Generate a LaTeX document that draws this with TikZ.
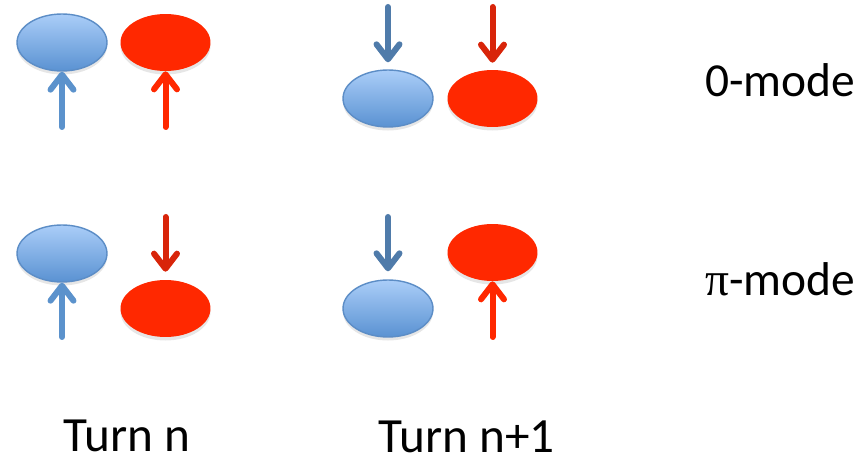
\documentclass[tikz,border=0pt]{standalone}
\usepackage{fontspec}
\setmainfont{Carlito}
\newfontfamily\greekfont{Liberation Serif}
\usetikzlibrary{shapes.geometric,arrows.meta,shadows}
\definecolor{bluetop}{HTML}{AACDF8}
\definecolor{bluebot}{HTML}{5A92D2}
\definecolor{blueline}{HTML}{5C8DC6}
\definecolor{blueup}{HTML}{5B92CC}
\definecolor{bluedown}{HTML}{4F7BAA}
\definecolor{redfill}{HTML}{FF2800}
\definecolor{reddown}{HTML}{D8250A}
\tikzset{
  bunch/.style={ellipse, minimum width=1.8cm, minimum height=1.14cm, inner sep=0pt,
    drop shadow={opacity=0.2, shadow xshift=0pt, shadow yshift=-2pt}},
  bluebunch/.style={bunch, draw=blueline, line width=0.8pt, top color=bluetop, bottom color=bluebot},
  redbunch/.style={bunch, fill=redfill},
  kick/.style={line width=0.12cm, line cap=round,
    -{Straight Barb[length=0.3cm, width=0.46cm, round]}},
  label/.style={anchor=base west, inner sep=0pt, text depth=0pt}
}
\begin{document}
\begin{tikzpicture}[x=0.02cm, y=-0.02cm]
\useasboundingbox (0,0) rectangle (856,462);
% bunches, turn n
\node[bluebunch] (b1) at (62,42.5) {};
\node[redbunch] (r1) at (165.5,42.5) {};
\node[bluebunch] (b2) at (62,253.5) {};
\node[redbunch] (r2) at (165.5,308.5) {};
% bunches, turn n+1
\node[bluebunch] (b3) at (388,98.5) {};
\node[redbunch] (r3) at (492.5,98.5) {};
\node[bluebunch] (b4) at (388,308.5) {};
\node[redbunch] (r4) at (492.5,252.5) {};
% kicks
\coordinate (kb1) at (62,127);
\coordinate (kr1) at (165.5,127);
\coordinate (kb2) at (62,337);
\coordinate (kr2) at (165.5,217);
\coordinate (kb3) at (388,7);
\coordinate (kr3) at (492.5,7);
\coordinate (kb4) at (388,217);
\coordinate (kr4) at (492.5,337);
\draw[kick, blueup] (kb1) -- (b1.south);
\draw[kick, redfill] (kr1) -- (r1.south);
\draw[kick, blueup] (kb2) -- (b2.south);
\draw[kick, reddown] (kr2) -- ([yshift=0.16cm]r2.north);
\draw[kick, bluedown] (kb3) -- ([yshift=0.14cm]b3.north);
\draw[kick, reddown] (kr3) -- ([yshift=0.14cm]r3.north);
\draw[kick, bluedown] (kb4) -- ([yshift=0.16cm]b4.north);
\draw[kick, redfill] (kr4) -- (r4.south);
% labels
\node[label, font=\fontsize{27}{32}\selectfont] (zero) at (705,97) {0-mode};
\node[label, font=\fontsize{27}{32}\selectfont] (pi) at (705,296) {{\greekfont π}-mode};
\node[label, font=\fontsize{28}{33}\selectfont] (tn) at (63,452) {Turn n};
\node[label, font=\fontsize{28}{33}\selectfont] (tn1) at (378,453) {Turn n+1};
\end{tikzpicture}
\end{document}
